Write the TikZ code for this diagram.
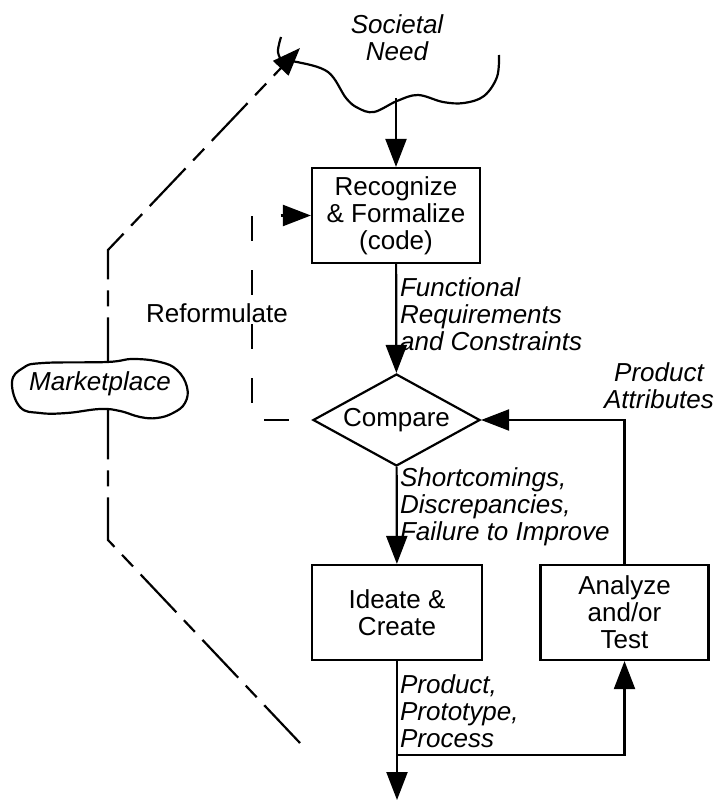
\documentclass[tikz,border=0pt]{standalone}
\usepackage{fontspec}
\setmainfont{Liberation Sans}
\usetikzlibrary{arrows.meta,calc,positioning,shapes.geometric}

\begin{document}
\begin{tikzpicture}[x=0.5pt,y=-0.5pt,>={Triangle[length=14pt,width=10.5pt]},line width=1.1pt,
  every node/.style={font=\fontsize{13}{13.5}\selectfont},
  blk/.style={draw,rectangle,minimum width=84pt,minimum height=47.5pt,align=center,inner sep=0pt},
  lbl/.style={font=\fontsize{13}{13.5}\selectfont\itshape,align=left,inner sep=0pt}]
\useasboundingbox (0,0) rectangle (717,802);
% societal need
\draw plot[smooth,tension=0.6] coordinates {(281,37) (278,52) (284,62) (297,62) (328,72) (346,98) (358,108) (374,112) (397,101) (418,95) (443,102) (464,103) (484,96) (497,77) (499,55)};
\node[lbl,align=center] (needtxt) at (397,38) {Societal\\Need};
\coordinate (needpt) at (396,98);
% main blocks
\node[blk] (recog) at (396,215.5) {Recognize\\\& Formalize\\(code)};
\node[draw,diamond,aspect=1.8,minimum width=83.5pt,minimum height=46pt,inner sep=0pt] (compare) at (396.5,420) {Compare};
\node[blk,minimum width=85pt] (ideate) at (397,612.5) {Ideate \&\\Create};
\node[blk] (analyze) at (624.5,612.5) {Analyze\\and/or\\Test};
% flow
\draw[->] (needpt) -- (recog);
\draw[->] (recog) -- (compare);
\draw[->] (compare) -- (ideate);
\coordinate (outend) at (397,800);
\coordinate (brpt) at (397,755);
\draw[->] (ideate) -- (outend);
\draw[->] (brpt) -| (analyze.south);
\draw[->] (analyze.north) |- (compare.east);
\draw[->,dash pattern=on 12.5pt off 14.5pt,dash phase=15.5pt] (compare.west) -- (252,420) |- (recog.west);
% labels
\node[lbl,anchor=west] (funclbl) at (399,314) {Functional\\Requirements\\and Constraints};
\node[lbl,anchor=west] (shortlbl) at (399,507) {Shortcomings,\\Discrepancies,\\Failure to Improve};
\node[lbl,anchor=west] (prodlbl) at (399,711) {Product,\\Prototype,\\Process};
\node[lbl,align=center] (attrlbl) at (659,386) {Product\\Attributes};
\node (reflbl) at (217,313) {Reformulate};
% marketplace
\coordinate (mktend) at (300,743);
\coordinate (mkttip) at (300,48);
\draw[->,dash pattern=on 26pt off 5.5pt on 8pt off 5.5pt] (mktend) -- (108,540) -- (108,250) -- (mkttip);
\draw[fill=white] plot[smooth cycle,tension=0.7] coordinates {(12,382) (23,368) (43,363) (107,362) (133,359) (160,362) (177,370) (187,387) (185,403) (173,413) (157,418) (140,417) (120,411) (100,409) (67,413) (40,413) (20,407)};
\node[lbl] (mkttxt) at (100,384) {Marketplace};
\end{tikzpicture}
\end{document}
